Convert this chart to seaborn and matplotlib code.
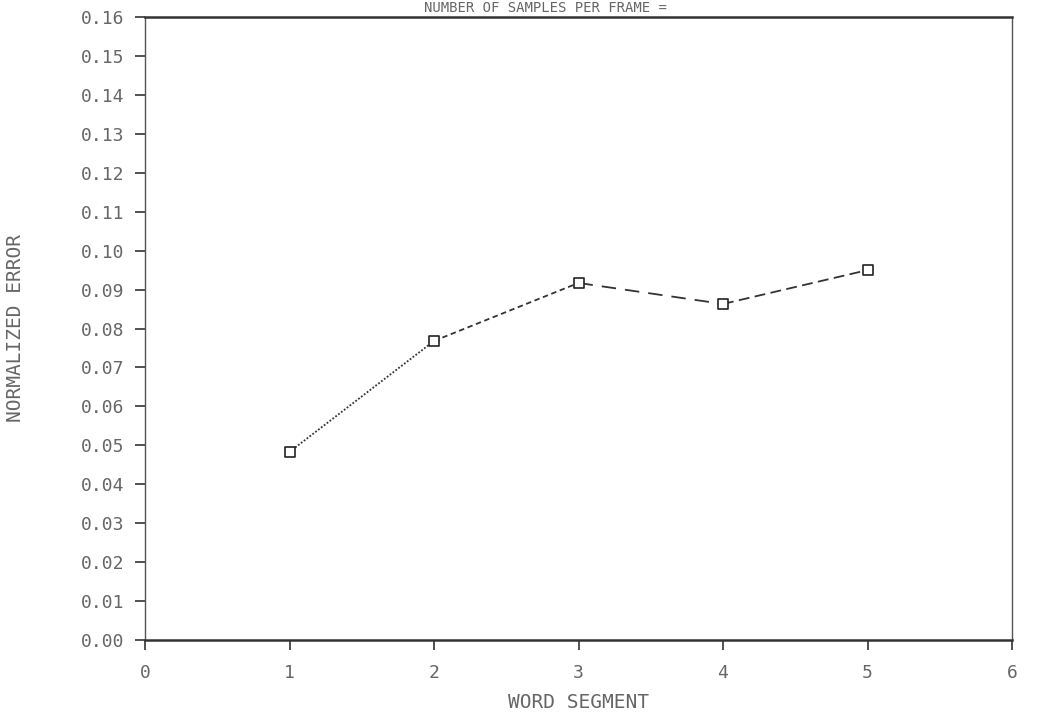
import matplotlib
matplotlib.use("Agg")
import matplotlib.pyplot as plt
import seaborn as sns
import numpy as np

# data
segments = [1, 2, 3, 4, 5]
norm_error = [0.0483, 0.0768, 0.0917, 0.0863, 0.0950]
seg_styles = [(0, (1, 1)), (0, (3, 2)), (0, (8, 5)), (0, (6, 3))]

x_ticks = [0, 1, 2, 3, 4, 5, 6]
y_ticks = [round(0.01 * i, 2) for i in range(17)]

title_txt = "NUMBER OF SAMPLES PER FRAME ="
x_label = "WORD SEGMENT"
y_label = "NORMALIZED ERROR"

sns.set_theme(style="white")
plt.rcParams['font.family'] = ['DejaVu Sans Mono', 'DejaVu Sans']
txt_col = "#666666"

fig = plt.figure(figsize=(10.51, 7.26), dpi=100)
ax = fig.add_axes([145 / 1051, 1 - 640 / 726, (1012 - 145) / 1051, (640 - 17) / 726])

# each segment has its own dash pattern in the original
for i in range(len(segments) - 1):
    sns.lineplot(x=segments[i:i + 2], y=norm_error[i:i + 2], ax=ax,
                 color="#333333", linewidth=1.3, linestyle=seg_styles[i])
sns.scatterplot(x=segments, y=norm_error, ax=ax, marker="s", s=60,
                facecolor="white", edgecolor="#222222", linewidth=1.2, zorder=5)

ax.set_xlim(0, 6)
ax.set_ylim(0, 0.16)
ax.set_xticks(x_ticks)
ax.set_yticks(y_ticks)
ax.set_yticklabels([f"{v:.2f}" for v in y_ticks])

ax.tick_params(axis="both", which="both", direction="out", length=7, width=1.2,
               colors="#333333", labelcolor=txt_col, labelsize=13)
ax.tick_params(axis="x", pad=10)
ax.tick_params(axis="y", pad=8)
ax.xaxis.set_ticks_position("bottom")
ax.yaxis.set_ticks_position("left")

for side in ["top", "bottom"]:
    ax.spines[side].set_color("#333333")
    ax.spines[side].set_linewidth(1.8)
for side in ["left", "right"]:
    ax.spines[side].set_color("#555555")
    ax.spines[side].set_linewidth(1.0)
    ax.spines[side].set_linestyle((0, (1, 1)))

ax.set_xlabel(x_label, fontsize=14, color=txt_col, labelpad=8)
ax.set_ylabel(y_label, fontsize=14, color=txt_col, labelpad=40)

# title squeezed into the strip above the frame
fig.text(545 / 1051, 1 - 8 / 726, title_txt, ha="center", va="center",
         fontsize=10, color=txt_col)

fig.savefig("out.png", dpi=100, facecolor="white")
